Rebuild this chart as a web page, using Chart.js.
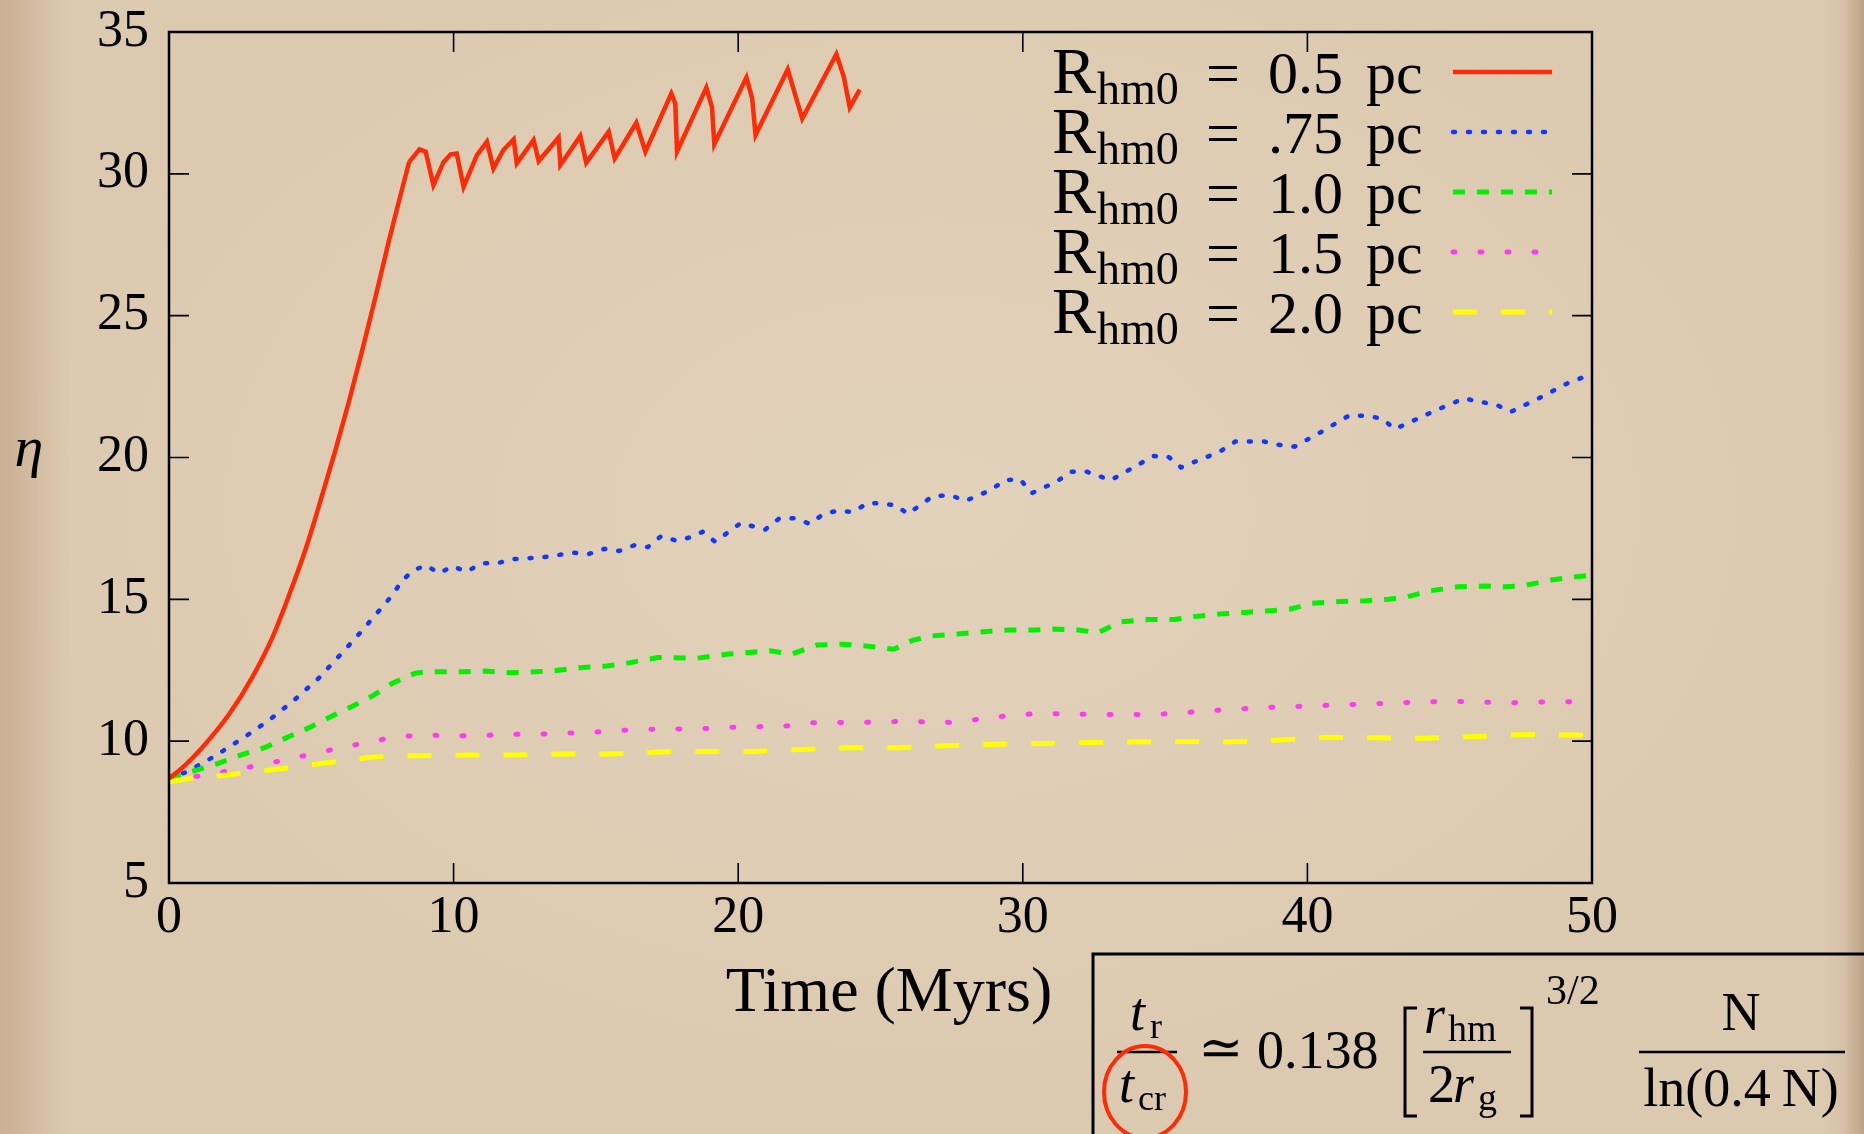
<!DOCTYPE html>
<html>
<head>
<meta charset="utf-8">
<script src="https://cdn.jsdelivr.net/npm/chart.js@4.4.1/dist/chart.umd.min.js"></script>
<style>
  html, body { margin: 0; padding: 0; }
  body {
    width: 1864px; height: 1134px; overflow: hidden;
    background-color: #dccab0;
    background-image:
      linear-gradient(to right, rgba(170,125,95,0.35) 0px, rgba(170,125,95,0) 70px),
      linear-gradient(to left, rgba(150,115,85,0.45) 0px, rgba(150,115,85,0.1) 20px, rgba(150,115,85,0) 40px),
      radial-gradient(ellipse at 50% 45%, rgba(232,218,195,0.5) 0%, rgba(232,218,195,0) 70%);
  }
  #wrap { position: absolute; left: 0; top: 0; }
</style>
</head>
<body>
<div id="wrap"><canvas id="myChart" width="1864" height="1134"></canvas></div>
<script>
var serif = '"Liberation Serif", "DejaVu Serif", serif';

// Rhm0 = 0.5 pc, smooth rise then the sawtooth
var r05RiseTime = [0, 0.56, 1.17, 2.11, 2.93, 3.63, 4.22, 4.81, 5.39, 5.86, 6.33, 6.80, 7.27, 7.74, 8.09, 8.44];
var r05RiseEta = [8.68, 9.15, 9.78, 10.95, 12.26, 13.65, 15.15, 16.80, 18.70, 20.30, 22.00, 23.82, 25.72, 27.69, 29.08, 30.42];
var r05Time = [8.44, 8.80, 9.02, 9.29, 9.65, 9.90, 10.11, 10.35, 10.82, 11.17, 11.40, 11.75, 12.11, 12.22, 12.81, 12.99, 13.69, 13.75, 14.45, 14.66, 15.45, 15.66, 16.42, 16.74, 17.65, 17.79, 17.85, 18.88, 19.08, 19.16, 20.29, 20.49, 20.61, 21.74, 22.25, 23.45, 23.71, 23.92, 24.27];
var r05Eta = [30.42, 30.86, 30.78, 29.60, 30.42, 30.69, 30.72, 29.54, 30.66, 31.13, 30.19, 30.84, 31.21, 30.37, 31.19, 30.45, 31.28, 30.31, 31.33, 30.39, 31.49, 30.54, 31.80, 30.78, 32.83, 32.48, 30.78, 33.04, 32.34, 31.04, 33.40, 32.66, 31.37, 33.68, 31.95, 34.22, 33.42, 32.34, 32.97];

// Rhm0 = .75 pc
var r075Time = [0, 0.63, 1.57, 2.59, 3.53, 4.40, 5.26, 5.96, 6.75, 7.45, 7.85, 8.16, 8.56, 9.03, 9.49, 9.97, 10.44, 10.99, 11.54, 12.01, 13.11, 14.21, 14.75, 15.31, 15.82, 16.36, 16.82, 17.30, 17.84, 18.29, 18.75, 19.19, 20.09, 20.95, 21.43, 21.98, 22.52, 23.00, 23.48, 24.04, 24.57, 25.54, 25.96, 26.81, 27.44, 27.98, 28.88, 29.35, 29.91, 30.31, 31.19, 31.68, 32.24, 33.09, 34.10, 34.57, 35.11, 35.56, 36.91, 37.47, 38.48, 39.04, 39.55, 40.50, 41.50, 42.06, 42.62, 43.07, 44.53, 45.50, 46.10, 46.66, 47.15, 48.12, 49.13, 50];
var r075Eta = [8.69, 8.92, 9.45, 10.10, 10.75, 11.45, 12.22, 12.98, 13.86, 14.68, 15.15, 15.62, 16.01, 16.20, 15.92, 16.17, 15.97, 16.27, 16.27, 16.41, 16.48, 16.64, 16.60, 16.78, 16.71, 16.91, 16.84, 17.23, 17.06, 17.18, 17.38, 17.03, 17.69, 17.46, 17.84, 17.86, 17.66, 18.01, 18.12, 18.08, 18.41, 18.32, 18.01, 18.62, 18.68, 18.47, 18.85, 19.20, 19.23, 18.74, 19.15, 19.50, 19.50, 19.20, 19.77, 20.05, 20.03, 19.65, 20.20, 20.56, 20.56, 20.44, 20.38, 20.91, 21.50, 21.46, 21.38, 21.00, 21.67, 22.08, 21.96, 21.85, 21.61, 22.08, 22.61, 22.95];

// Rhm0 = 1.0 pc
var r10Time = [0, 0.78, 1.73, 2.51, 3.38, 4.16, 4.87, 5.57, 6.36, 7.14, 7.85, 8.63, 9.03, 10.36, 11.14, 12.01, 12.56, 13.50, 14.44, 15.38, 16.05, 17.17, 18.52, 19.64, 21.10, 21.88, 22.78, 23.67, 24.57, 25.47, 26.14, 26.81, 27.71, 28.61, 29.51, 30.40, 31.08, 31.97, 32.64, 33.43, 34.44, 35.34, 36.01, 36.91, 37.80, 38.70, 39.37, 40.16, 41.17, 42.06, 42.85, 43.52, 44.30, 45.31, 46.21, 47.00, 47.67, 48.57, 49.47, 50];
var r10Eta = [8.73, 8.92, 9.22, 9.51, 9.78, 10.14, 10.45, 10.81, 11.19, 11.59, 12.04, 12.39, 12.45, 12.45, 12.47, 12.41, 12.43, 12.48, 12.59, 12.65, 12.74, 12.95, 12.92, 13.07, 13.19, 13.07, 13.39, 13.42, 13.35, 13.24, 13.56, 13.71, 13.78, 13.86, 13.92, 13.92, 13.95, 13.92, 13.82, 14.21, 14.29, 14.29, 14.39, 14.48, 14.54, 14.60, 14.65, 14.86, 14.92, 14.95, 15.00, 15.09, 15.30, 15.44, 15.47, 15.44, 15.50, 15.68, 15.80, 15.85];

// Rhm0 = 1.5 pc
var r15Time = [0, 1.10, 2.12, 3.06, 4.08, 5.02, 5.96, 6.91, 7.93, 8.87, 9.89, 10.83, 11.85, 12.79, 13.81, 14.75, 15.78, 16.72, 17.71, 18.68, 19.70, 20.64, 21.63, 22.60, 23.54, 24.55, 25.54, 26.54, 27.53, 28.53, 29.47, 30.47, 31.43, 32.43, 33.39, 34.38, 35.38, 36.33, 37.32, 38.32, 39.28, 40.26, 41.26, 42.22, 43.21, 44.18, 45.17, 46.17, 47.15, 48.11, 49.11, 50];
var r15Eta = [8.73, 8.77, 8.96, 9.13, 9.34, 9.55, 9.75, 9.95, 10.14, 10.22, 10.19, 10.19, 10.24, 10.24, 10.28, 10.31, 10.37, 10.42, 10.43, 10.44, 10.49, 10.51, 10.53, 10.65, 10.66, 10.67, 10.69, 10.68, 10.66, 10.78, 10.90, 10.97, 10.97, 10.94, 10.94, 10.94, 10.98, 11.06, 11.12, 11.18, 11.21, 11.25, 11.28, 11.32, 11.35, 11.39, 11.40, 11.38, 11.35, 11.38, 11.39, 11.40];

// Rhm0 = 2.0 pc
var r20Time = [0, 0.78, 2.04, 3.77, 5.41, 7.06, 8.01, 8.79, 10.44, 12.17, 13.81, 15.54, 17.19, 18.84, 20.56, 22.21, 23.94, 25.63, 27.29, 28.94, 30.68, 32.35, 34.00, 35.74, 37.41, 39.06, 40.72, 42.38, 44.05, 45.71, 47.37, 49.11, 50];
var r20Eta = [8.57, 8.69, 8.81, 9.01, 9.22, 9.43, 9.48, 9.49, 9.51, 9.51, 9.55, 9.55, 9.62, 9.64, 9.64, 9.71, 9.77, 9.77, 9.84, 9.89, 9.92, 9.95, 9.98, 9.99, 9.98, 10.04, 10.14, 10.12, 10.10, 10.16, 10.23, 10.22, 10.22];

var radii = ['0.5', '.75', '1.0', '1.5', '2.0'];
var colors = ['#ff2a06', '#1238ff', '#00f000', '#ff3cf0', '#ffff00'];
var xTicks = [0, 10, 20, 30, 40, 50];
var yTicks = [5, 10, 15, 20, 25, 30, 35];

function pts(t, v) {
  var out = [];
  for (var i = 0; i < t.length; i++) out.push({x: t[i], y: v[i]});
  return out;
}

var series = [
  {time: r05Time, eta: r05Eta, dash: [], cap: 'butt', width: 4.5},
  {time: r075Time, eta: r075Eta, dash: [2, 13], cap: 'round', width: 4.5},
  {time: r10Time, eta: r10Eta, dash: [12, 12], cap: 'butt', width: 5},
  {time: r15Time, eta: r15Eta, dash: [2, 25], cap: 'round', width: 5},
  {time: r20Time, eta: r20Eta, dash: [24, 24], cap: 'butt', width: 5}
];

var datasets = [];
series.forEach(function(s, i) {
  datasets.push({
    label: 'Rhm0 = ' + radii[i] + ' pc',
    radius: radii[i],
    data: pts(s.time, s.eta),
    borderColor: colors[i],
    borderWidth: s.width,
    borderDash: s.dash,
    borderCapStyle: s.cap,
    borderJoinStyle: 'miter',
    pointRadius: 0,
    tension: 0,
    fill: false,
    order: 4 - i
  });
});
// the first part of the 0.5 pc curve is smooth
datasets.push({
  label: 'Rhm0 = 0.5 pc (rise)',
  noLegend: true,
  data: pts(r05RiseTime, r05RiseEta),
  borderColor: colors[0],
  borderWidth: 4.5,
  pointRadius: 0,
  cubicInterpolationMode: 'monotone',
  fill: false,
  order: -1
});

// box, inner ticks, legend, axis titles and the formula
var decorations = {
  id: 'decorations',
  afterDraw: function(chart) {
    var c = chart.ctx, a = chart.chartArea;
    var xs = chart.scales.x, ys = chart.scales.y;
    c.save();
    c.strokeStyle = '#000';
    c.lineWidth = 1.6;
    xTicks.forEach(function(v) {
      var px = xs.getPixelForValue(v);
      c.beginPath();
      c.moveTo(px, a.bottom); c.lineTo(px, a.bottom - 20);
      c.moveTo(px, a.top); c.lineTo(px, a.top + 20);
      c.stroke();
    });
    yTicks.forEach(function(v) {
      var py = ys.getPixelForValue(v);
      c.beginPath();
      c.moveTo(a.left, py); c.lineTo(a.left + 20, py);
      c.moveTo(a.right, py); c.lineTo(a.right - 20, py);
      c.stroke();
    });
    c.lineWidth = 2.5;
    c.strokeRect(a.left, a.top, a.right - a.left, a.bottom - a.top);

    // legend
    c.fillStyle = '#000';
    c.textBaseline = 'alphabetic';
    var row = 0;
    chart.data.datasets.forEach(function(ds) {
      if (ds.noLegend) return;
      var ly = 72 + row * 60;
      row++;
      c.textAlign = 'left';
      c.font = '66px ' + serif;
      c.fillText('R', 1052, ly + 21);
      var w = c.measureText('R').width;
      c.font = '46px ' + serif;
      c.fillText('hm0', 1052 + w + 1, ly + 32);
      c.font = '60px ' + serif;
      c.textAlign = 'center';
      c.fillText('=', 1223, ly + 21);
      c.textAlign = 'right';
      c.fillText(ds.radius, 1343, ly + 21);
      c.textAlign = 'left';
      c.fillText('pc', 1366, ly + 21);
      c.save();
      c.strokeStyle = ds.borderColor;
      c.lineWidth = ds.borderWidth;
      c.setLineDash(ds.borderDash);
      c.lineCap = ds.borderCapStyle;
      c.beginPath();
      c.moveTo(1453, ly); c.lineTo(1552, ly);
      c.stroke();
      c.restore();
    });

    // axis titles
    c.textAlign = 'center';
    c.font = '64px ' + serif;
    c.fillText('Time (Myrs)', 889, 1011);
    c.font = 'italic 58px ' + serif;
    c.fillText('\u03b7', 29, 466);

    // formula box
    c.lineWidth = 3;
    c.strokeRect(1093, 954, 800, 300);
    c.lineWidth = 2.5;
    c.beginPath();
    c.moveTo(1117, 1052); c.lineTo(1177, 1052);
    c.moveTo(1423, 1052); c.lineTo(1511, 1052);
    c.moveTo(1639, 1052); c.lineTo(1845, 1052);
    c.stroke();
    c.lineWidth = 3;
    c.beginPath();
    c.moveTo(1417, 1008); c.lineTo(1405, 1008); c.lineTo(1405, 1116); c.lineTo(1417, 1116);
    c.moveTo(1520, 1008); c.lineTo(1532, 1008); c.lineTo(1532, 1116); c.lineTo(1520, 1116);
    c.stroke();

    c.textAlign = 'left';
    c.font = 'italic 54px ' + serif;
    c.fillText('t', 1130, 1030);
    c.fillText('t', 1119, 1102);
    c.font = '36px ' + serif;
    c.fillText('r', 1150, 1038);
    c.fillText('cr', 1138, 1110);

    c.font = '54px ' + serif;
    c.fillText('\u2243', 1198, 1066);
    c.fillText('0.138', 1257, 1068);

    c.font = 'italic 54px ' + serif;
    c.fillText('r', 1424, 1033);
    c.fillText('r', 1453, 1102);
    c.font = '54px ' + serif;
    c.fillText('2', 1428, 1102);
    c.font = '38px ' + serif;
    c.fillText('hm', 1448, 1041);
    c.fillText('g', 1478, 1110);
    c.font = '42px ' + serif;
    c.fillText('3/2', 1546, 1004);

    c.textAlign = 'center';
    c.font = '54px ' + serif;
    c.fillText('N', 1741, 1030);
    c.fillText('ln(0.4\u2009N)', 1741, 1106);

    c.strokeStyle = '#ff2a06';
    c.lineWidth = 4;
    c.beginPath();
    c.ellipse(1145, 1092, 41, 46, 0, 0, Math.PI * 2);
    c.stroke();
    c.restore();
  }
};

var tickFont = { family: serif, size: 52 };

var ctx = document.getElementById('myChart').getContext('2d');
var myChart = new Chart(ctx, {
  type: 'line',
  data: { datasets: datasets },
  options: {
    responsive: false,
    animation: false,
    layout: { padding: { left: 0, right: 272, top: 32, bottom: 0 } },
    plugins: { legend: { display: false }, tooltip: { enabled: false } },
    scales: {
      x: {
        type: 'linear', min: 0, max: 50,
        ticks: { stepSize: 10, padding: 4, color: '#000', font: tickFont, maxRotation: 0 },
        grid: { display: false, drawTicks: false },
        border: { display: false },
        afterFit: function(s) { s.height = 251; s.paddingLeft = 0; s.paddingRight = 0; }
      },
      y: {
        type: 'linear', min: 5, max: 35,
        ticks: { stepSize: 5, padding: 20, color: '#000', font: tickFont },
        grid: { display: false, drawTicks: false },
        border: { display: false },
        afterFit: function(s) { s.width = 169; s.paddingTop = 0; s.paddingBottom = 0; }
      }
    }
  },
  plugins: [decorations]
});
</script>
</body>
</html>
